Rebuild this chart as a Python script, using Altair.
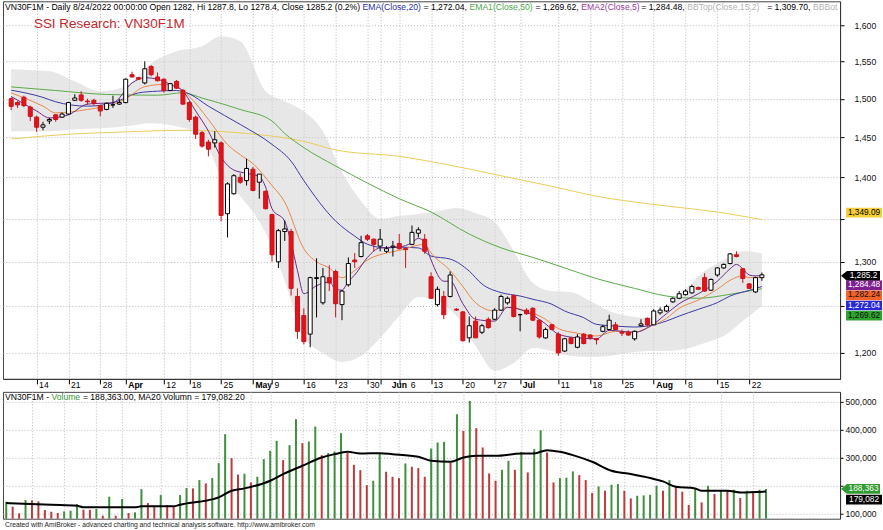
import altair as alt
import pandas as pd

FONT = "Liberation Sans"

# ---------------- data ----------------
bar_index = list(range(119))  # trading days 8 Mar 2022 .. 24 Aug 2022

opens = [1500, 1495, 1502, 1489, 1476, 1463, 1471, 1479, 1476, 1480,
         1498, 1505, 1497, 1498, 1491, 1486, 1492, 1493, 1495, 1532,
         1528, 1521, 1543, 1529, 1526, 1511, 1523, 1511, 1495, 1476,
         1456, 1444, 1443, 1443, 1356, 1380, 1400, 1396, 1410, 1394,
         1383, 1355, 1300, 1335, 1335, 1261, 1240, 1220, 1281, 1254,
         1282, 1289, 1252, 1274, 1302, 1306, 1330, 1326, 1318, 1312,
         1317, 1321, 1315, 1320, 1333, 1326, 1283, 1252, 1261, 1261,
         1247, 1244, 1216, 1234, 1222, 1236, 1236, 1246, 1254, 1262,
         1241, 1246, 1248, 1235, 1216, 1230, 1220, 1202, 1216, 1206,
         1220, 1219, 1215, 1223, 1225, 1230, 1222, 1222, 1215, 1229,
         1237, 1230, 1243, 1245, 1255, 1259, 1263, 1265, 1271, 1282,
         1268, 1285, 1293, 1298, 1308, 1292, 1275, 1266, 1282]
highs = [1502, 1497, 1504, 1491, 1478, 1470, 1475, 1480, 1482, 1496,
         1506, 1510, 1500, 1500, 1492, 1495, 1504, 1500, 1527, 1536,
         1529, 1550, 1545, 1535, 1527, 1521, 1525, 1513, 1497, 1478,
         1458, 1447, 1458, 1445, 1394, 1404, 1405, 1423, 1413, 1404,
         1384, 1356, 1338, 1348, 1338, 1270, 1248, 1283, 1304, 1293,
         1296, 1291, 1268, 1305, 1310, 1330, 1332, 1327, 1338, 1318,
         1324, 1332, 1316, 1342, 1340, 1332, 1288, 1272, 1267, 1289,
         1248, 1245, 1239, 1239, 1231, 1238, 1248, 1263, 1261, 1263,
         1242, 1248, 1249, 1236, 1227, 1231, 1222, 1216, 1216, 1220,
         1221, 1220, 1216, 1230, 1241, 1233, 1225, 1224, 1224, 1236,
         1238, 1247, 1249, 1252, 1260, 1267, 1269, 1274, 1272, 1287,
         1281, 1294, 1298, 1310, 1312, 1293, 1276, 1283, 1287.8]
lows = [1485, 1488, 1489, 1471, 1457, 1459, 1467, 1470, 1475, 1479,
        1497, 1496, 1492, 1491, 1477, 1485, 1488, 1492, 1494, 1528,
        1525, 1519, 1530, 1523, 1508, 1510, 1513, 1492, 1470, 1448,
        1437, 1426, 1437, 1347, 1328, 1379, 1392, 1390, 1383, 1374,
        1361, 1300, 1293, 1324, 1262, 1215, 1209, 1206, 1238, 1252,
        1267, 1238, 1235, 1272, 1293, 1305, 1324, 1312, 1312, 1310,
        1306, 1314, 1293, 1319, 1328, 1309, 1259, 1250, 1236, 1260,
        1245, 1212, 1211, 1216, 1220, 1226, 1235, 1245, 1252, 1238,
        1223, 1241, 1234, 1215, 1215, 1224, 1197, 1201, 1209, 1205,
        1209, 1214, 1209, 1222, 1224, 1224, 1218, 1218, 1213, 1228,
        1228, 1230, 1241, 1244, 1254, 1258, 1262, 1264, 1268, 1266,
        1267, 1283, 1292, 1297, 1305, 1276, 1270, 1265, 1278.4]
closes = [1490, 1492, 1491, 1477, 1463, 1466, 1473, 1473, 1480, 1495,
          1501, 1498, 1496, 1494, 1484, 1494, 1492, 1495, 1526, 1529,
          1526, 1540, 1532, 1524, 1511, 1520, 1514, 1493, 1473, 1454,
          1439, 1435, 1447, 1354, 1392, 1402, 1394, 1411, 1384, 1404,
          1362, 1308, 1336, 1338, 1270, 1223, 1212, 1282, 1282, 1283,
          1276, 1253, 1267, 1298, 1300, 1322, 1326, 1320, 1326, 1315,
          1318, 1315, 1314, 1334, 1337, 1312, 1259, 1269, 1241, 1285,
          1246, 1213, 1229, 1216, 1229, 1227, 1246, 1261, 1259, 1239,
          1241, 1242, 1235, 1217, 1225, 1225, 1200, 1215, 1210, 1217,
          1210, 1216, 1214, 1228, 1235, 1225, 1221, 1219, 1223, 1231,
          1230, 1245, 1246, 1250, 1259, 1264, 1267, 1272, 1269, 1267,
          1280, 1293, 1297, 1309, 1306, 1281, 1270, 1282, 1285.2]
volumes = [142900, 125000, 101200, 148800, 147500, 144000, 113100, 107100, 102400, 108300,
           110700, 134500, 114300, 113500, 116700, 92900, 160700, 92900, 152400, 102400,
           104800, 188100, 138100, 128600, 166700, 131000, 125000, 166700, 191700, 190500,
           220200, 208300, 227400, 280900, 384500, 298800, 240000, 243000, 211900, 232100,
           295200, 325000, 360700, 291700, 345200, 438100, 352400, 358300, 411900, 309500,
           316700, 322600, 388100, 316700, 275000, 255900, 202400, 217900, 316700, 250000,
           232100, 227400, 279800, 267900, 263100, 232100, 333300, 354800, 357100, 283300,
           455900, 396400, 503600, 405900, 336900, 244000, 217900, 257100, 289300, 257100,
           321400, 247600, 330900, 398800, 319000, 211900, 227400, 229000, 251200, 238100,
           220200, 173800, 197600, 182100, 203600, 205900, 182100, 154800, 164300, 165500,
           167500, 200000, 182100, 220200, 197600, 178600, 131000, 190500, 140500, 200000,
           170200, 182100, 181000, 185700, 156000, 182100, 181000, 185700, 188363]

# date labels on the time axis
tick_idx = [4, 9, 14, 18, 24, 28, 33, 38, 41, 46, 51, 56, 58, 61, 66, 71, 76, 80, 86, 91, 96, 101, 106, 111, 116]
tick_text = ["14", "21", "28", "Apr", "12", "18", "25", "May", "9", "16", "23", "30", "Jun", "6",
             "13", "20", "27", "Jul", "11", "18", "25", "Aug", "8", "15", "22"]
month_idx = [18, 38, 58, 80, 101]
pushed_idx = [58, 61]  # labels nudged right to avoid overlap, as in the reference

price_ticks = [1200, 1250, 1300, 1350, 1400, 1450, 1500, 1550, 1600]
volume_ticks = [100000, 200000, 300000, 400000, 500000]

# indicator lines (vertices)
ema5_idx = [0, 4, 6, 9, 12, 16, 19, 21, 23, 25, 27, 29, 31, 33, 35, 37, 39, 40, 41, 43, 44, 45, 46, 48, 50,
            51, 52, 53, 54, 56, 58, 61, 63, 64, 65, 66, 68, 69, 71, 73, 76, 78, 81, 84, 86, 89, 92, 94, 98,
            101, 103, 105, 108, 111, 113, 114, 115, 116, 117, 118]
ema5_val = [1503, 1484, 1475, 1479, 1493, 1495, 1521, 1528, 1526, 1519, 1510, 1484, 1458, 1425, 1409, 1405,
            1401, 1388, 1362, 1347, 1322, 1290, 1264, 1273, 1277, 1269, 1268, 1278, 1285, 1305, 1316, 1317,
            1322, 1327, 1322, 1302, 1278, 1278, 1253, 1236, 1234, 1249, 1244, 1231, 1220, 1216, 1215, 1224,
            1222, 1231, 1242, 1253, 1264, 1278, 1292, 1297, 1292, 1285, 1284, 1284.48]
ema10_idx = [0, 5, 7, 12, 16, 18, 21, 24, 26, 28, 31, 34, 36, 38, 41, 43, 46, 48, 50, 52, 54, 56, 59, 61,
             65, 66, 69, 71, 73, 76, 78, 81, 84, 86, 89, 92, 95, 98, 100, 103, 105, 108, 111, 113, 115, 116, 118]
ema10_val = [1507.8, 1490.3, 1481.5, 1486, 1492.6, 1500, 1516, 1519, 1516, 1503, 1473, 1441, 1428, 1417,
             1390, 1370, 1315, 1300, 1293, 1282, 1290, 1302, 1310, 1313, 1320, 1310, 1290, 1272, 1254,
             1245, 1249, 1245, 1236, 1226, 1221, 1218, 1223, 1222, 1227, 1237, 1248, 1257, 1269, 1279,
             1284, 1282, 1282.24]
ema20_idx = [0, 5, 7, 12, 16, 20, 23, 26, 28, 31, 36, 41, 44, 46, 51, 54, 56, 59, 61, 64, 66, 69, 72, 74,
             77, 80, 82, 85, 87, 90, 92, 95, 98, 100, 103, 105, 108, 111, 113, 116, 118]
ema20_val = [1511.4, 1501.8, 1496, 1490.3, 1494.6, 1507.8, 1510, 1510.9, 1506.4, 1490.3, 1466.6, 1441.1,
             1420, 1396, 1347.3, 1329.6, 1320.2, 1315.9, 1316.7, 1315.9, 1306.5, 1303.1, 1289.4, 1274.9,
             1265.3, 1261.5, 1257.9, 1252.4, 1245, 1237.7, 1230.5, 1228.7, 1227.6, 1228.7, 1234.1, 1239.5,
             1246.8, 1254.2, 1261.5, 1267.8, 1272.04]
ema50_idx = [0, 7, 15, 23, 27, 30, 36, 41, 43, 46, 51, 56, 61, 66, 72, 77, 82, 87, 92, 98, 103, 108, 113, 118]
ema50_val = [1515.7, 1510.9, 1505.7, 1504.7, 1508, 1501, 1486, 1471, 1455, 1437, 1414, 1393, 1374, 1358,
             1332, 1316, 1305, 1293, 1281, 1270, 1261.5, 1259, 1263.4, 1269.62]
ema200_idx = [0, 9, 18, 27, 37, 46, 51, 61, 69, 77, 85, 92, 100, 111, 118]
ema200_val = [1448, 1454, 1457, 1459, 1455, 1445, 1434, 1426, 1415, 1402, 1389, 1377, 1368, 1358, 1349.09]

bb_idx = [0, 6, 10, 14, 18, 22, 26, 30, 33, 36, 40, 43, 46, 49, 52, 55, 58, 61, 64, 67, 70, 73, 76, 79,
          82, 85, 88, 91, 94, 97, 100, 103, 106, 109, 112, 115, 118]
bb_top = [1539.4, 1536.7, 1523.3, 1510.0, 1516.6, 1547.6, 1563.9, 1570.8, 1584.6, 1577.7, 1510.0, 1496.8,
          1483.7, 1457.9, 1406.5, 1371.1, 1349.7, 1353.2, 1355.6, 1359.1, 1362.7, 1356.7, 1346.1, 1312.3,
          1276.0, 1267.0, 1265.9, 1256.0, 1245.0, 1239.5, 1237.3, 1250.5, 1269.2, 1289.4, 1301.9, 1312.3, 1309.7]
bb_bot = [1457.9, 1457.9, 1460.5, 1461.8, 1464.4, 1468.2, 1464.4, 1451.6, 1401.5, 1377.1, 1333.2, 1278.2,
          1216.9, 1200.0, 1190.6, 1196.8, 1215.9, 1239.5, 1260.4, 1256.0, 1239.5, 1207.3, 1181.4, 1189.5,
          1205.2, 1202.1, 1196.8, 1195.8, 1196.8, 1200.0, 1202.1, 1202.1, 1204.2, 1210.5, 1218.0, 1234.1, 1250.4]

volma_idx = [0, 7, 11, 12, 20, 21, 26, 27, 30, 31, 33, 35, 37, 41, 43, 46, 49, 51, 53, 55, 58, 60, 64, 66,
             69, 71, 73, 76, 80, 82, 84, 86, 88, 91, 94, 97, 100, 102, 104, 107, 108, 112, 114, 118]
volma_val = [138100, 132100, 128600, 122600, 122600, 126200, 126200, 132100, 142900, 146400, 158300,
             182100, 190500, 217900, 241700, 271400, 301200, 313100, 321400, 315500, 316700, 313100,
             303600, 289300, 285700, 301200, 307100, 307100, 315500, 315500, 327400, 321400, 309500,
             285700, 253600, 241700, 227400, 215500, 196400, 190500, 182100, 182100, 176200, 179082.2]

last_close, last_ema5, last_ema10, last_ema20, last_ema50, last_ema200 = 1285.2, 1284.48, 1282.24, 1272.04, 1269.62, 1349.09
last_volume, last_volma = 188363, 179082.2

# ---------------- tables ----------------
candles = pd.DataFrame({"idx": bar_index, "open": opens, "high": highs, "low": lows, "close": closes})
candles["dir"] = ["up" if c >= o else "down" for o, c in zip(opens, closes)]
vol_df = pd.DataFrame({"idx": bar_index, "vol": volumes})
vol_df["dir"] = ["up"] + ["up" if volumes[i] > volumes[i - 1] else "down" for i in range(1, len(volumes))]
band_df = pd.DataFrame({"idx": bb_idx, "top": bb_top, "bot": bb_bot})

# ---------------- layout ----------------
W, H_PRICE, H_VOL = 838, 378, 127
x_scale = alt.Scale(domain=[-0.5, 129.5], nice=False, zero=False)
p_scale = alt.Scale(type="log", domain=[1173, 1634], nice=False, zero=False)
v_scale = alt.Scale(domain=[82000, 536000], nice=False, zero=False)
GRID = dict(grid=True, gridDash=[1, 2], gridColor="#b8b8b8", gridWidth=1)

idx_js = "[" + ",".join(str(i) for i in tick_idx) + "]"
txt_js = "[" + ",".join("'" + t + "'" for t in tick_text) + "]"
month_js = "[" + ",".join(str(i) for i in month_idx) + "]"
pushed_js = "[" + ",".join(str(i) for i in pushed_idx) + "]"

x_axis_price = alt.Axis(
    values=tick_idx, labelExpr=f"{txt_js}[indexof({idx_js}, datum.value)]", title=None,
    orient="bottom", ticks=True, tickSize=5, tickColor="#000", tickWidth=1,
    labelAlign="left", labelBaseline="top", labelPadding=-3,
    labelOffset={"condition": {"test": f"indexof({pushed_js}, datum.value) >= 0", "value": 11}, "value": 2},
    labelFontSize=8.6, labelFont=FONT, labelColor="#000",
    labelFontWeight={"condition": {"test": f"indexof({month_js}, datum.value) >= 0", "value": "bold"},
                     "value": "normal"},
    labelOverlap=False, labelBound=False, labelFlush=False,
    domain=True, domainColor="#333", **GRID)
y_axis_price = alt.Axis(
    orient="right", values=price_ticks, title=None,
    labelExpr="datum.value == 1250 || datum.value == 1350 ? '' : format(datum.value, ',')",
    tickSize=4, tickColor="#000", domainColor="#333", labelFontSize=8.7, labelFont=FONT,
    labelColor="#111", labelPadding=10, labelAlign="left", labelBaseline="middle", **GRID)
x_axis_vol = alt.Axis(values=tick_idx, labels=False, ticks=False, domain=False, title=None, **GRID)
y_axis_vol = alt.Axis(
    orient="right", values=volume_ticks, title=None,
    labelExpr="datum.value == 200000 ? '' : format(datum.value, ',')",
    tickSize=3, tickColor="#000", domainColor="#333", labelFontSize=8.6, labelFont=FONT,
    labelColor="#111", labelPadding=2, labelAlign="left", labelBaseline="middle", **GRID)


def PX(f):
    return alt.X(f, type="quantitative", scale=x_scale, axis=x_axis_price)


def PY(f):
    return alt.Y(f, type="quantitative", scale=p_scale, axis=y_axis_price)


def VX(f):
    return alt.X(f, type="quantitative", scale=x_scale, axis=x_axis_vol)


def VY(f):
    return alt.Y(f, type="quantitative", scale=v_scale, axis=y_axis_vol)


def ind_line(ix, vals, color):
    df = pd.DataFrame({"idx": ix, "v": vals})
    return alt.Chart(df).mark_line(color=color, strokeWidth=1, interpolate="monotone").encode(
        x=PX("idx"), y=PY("v"))


def note(text, x, y, size, color, weight="normal"):
    return alt.Chart(pd.DataFrame({"a": [0]})).mark_text(
        text=text, font=FONT, fontSize=size, color=color, fontWeight=weight, align="left",
        baseline="middle").encode(x=alt.value(x), y=alt.value(y))


BOX = "M-1,-0.27L1,-0.27L1,0.27L-1,0.27Z"
ARROW = "M-1,0L-0.7,-0.25L1,-0.25L1,0.25L-0.7,0.25Z"


def value_box(value, text, fill, tcolor, yoff, yenc, arrow=False):
    df = pd.DataFrame({"v": [value]})
    if arrow:
        shape, size, cx, tx = ARROW, 1521, 858.5, 861.5
    else:
        shape, size, cx, tx = BOX, 1296, 862, 862
    box = alt.Chart(df).mark_point(shape=shape, filled=True, size=size, color=fill, opacity=1,
                                   strokeWidth=0, yOffset=yoff).encode(x=alt.value(cx), y=yenc("v"))
    lab = alt.Chart(df).mark_text(text=text, font=FONT, fontSize=8.3, color=tcolor, align="center",
                                  baseline="middle", dy=yoff).encode(x=alt.value(tx), y=yenc("v"))
    return box + lab


# ---------------- price panel ----------------
band = alt.Chart(band_df).mark_area(color="#d4d4d4", opacity=0.55, interpolate="monotone").encode(
    x=PX("idx"), y=PY("top"), y2=alt.Y2("bot"))

wick = alt.Chart(candles).mark_rule(strokeWidth=1).encode(
    x=PX("idx"), y=PY("low"), y2=alt.Y2("high"),
    color=alt.Color("dir:N", scale=alt.Scale(domain=["up", "down"], range=["#000000", "#cc1018"]), legend=None))
body = alt.Chart(candles).mark_bar(size=4, strokeWidth=1).encode(
    x=PX("idx"), y=PY("open"), y2=alt.Y2("close"),
    fill=alt.Fill("dir:N", scale=alt.Scale(domain=["up", "down"], range=["#ffffff", "#e3131b"]), legend=None),
    stroke=alt.Stroke("dir:N", scale=alt.Scale(domain=["up", "down"], range=["#000000", "#cc1018"]), legend=None))

header_parts = [
    ("VN30F1M - Daily 8/24/2022 00:00:00 Open 1282, Hi 1287.8, Lo 1278.4, Close 1285.2 (0.2%)", 2, "#000"),
    ("EMA(Close,20)", 360, "#2f2fa8"),
    ("= 1,272.04,", 421, "#000"),
    ("EMA1(Close,50)", 467, "#4caa4c"),
    ("= 1,269.62,", 533, "#000"),
    ("EMA2(Close,5)", 579, "#9a3aa0"),
    ("= 1,284.48,", 639, "#000"),
    ("BBTop(Close,15,2)", 685, "#b4b4b4"),
    ("= 1,309.70,", 765, "#000"),
    ("BBBot", 811, "#b4b4b4"),
]
headers = [note(t, x, 5.5, 8.63, c) for t, x, c in header_parts]
headers.append(note("SSI Research: VN30F1M", 31, 22.5, 13.45, "#c62a2f"))

price_boxes = [
    value_box(last_ema200, "1,349.09", "#f5cf36", "#000", -7, PY),
    value_box(last_close, "1,285.2", "#000000", "#fff", 1, PY, arrow=True),
    value_box(last_ema5, "1,284.48", "#7d1f8c", "#fff", 10, PY),
    value_box(last_ema10, "1,282.24", "#f2622a", "#111", 18, PY),
    value_box(last_ema20, "1,272.04", "#2828d8", "#fff", 19, PY),
    value_box(last_ema50, "1,269.62", "#2ea42e", "#111", 27, PY),
]

price_chart = alt.layer(
    band,
    ind_line(ema200_idx, ema200_val, "#e8cd5c"),
    ind_line(ema50_idx, ema50_val, "#5aaa48"),
    ind_line(ema20_idx, ema20_val, "#3a3aa6"),
    ind_line(ema10_idx, ema10_val, "#e8884a"),
    ind_line(ema5_idx, ema5_val, "#6b2a86"),
    wick, body, *headers, *price_boxes,
).properties(width=W, height=H_PRICE)

# ---------------- volume panel ----------------
vol_up = alt.Chart(vol_df).transform_filter(alt.datum.dir == "up").mark_rule(
    color="#3f8f3f", strokeWidth=2).encode(x=VX("idx"), y=VY("vol"), y2=alt.value(H_VOL))
vol_dn = alt.Chart(vol_df).transform_filter(alt.datum.dir == "down").mark_rule(
    color="#bf3b3b", strokeWidth=2).encode(x=VX("idx"), y=VY("vol"), y2=alt.value(H_VOL))
volma = alt.Chart(pd.DataFrame({"idx": volma_idx, "v": volma_val})).mark_line(
    color="#000", strokeWidth=2, interpolate="monotone").encode(x=VX("idx"), y=VY("v"))

vol_notes = [
    note("VN30F1M - ", 2, 5, 8.63, "#000"),
    note("Volume", 48.5, 5, 8.63, "#3c9a3c"),
    note("= 188,363.00, MA20 Volumn = 179,082.20", 80, 5, 8.63, "#000"),
    note("Created with AmiBroker - advanced charting and technical analysis software. http://www.amibroker.com",
         2, 133.5, 6.8, "#222"),
]
vol_boxes = [
    value_box(last_volume, "188,363", "#2f9a2f", "#fff", 0, VY, arrow=True),
    value_box(last_volma, "179,082", "#000000", "#fff", 8, VY),
]

vol_chart = alt.layer(vol_up, vol_dn, volma, *vol_notes, *vol_boxes).properties(width=W, height=H_VOL)

chart = alt.vconcat(price_chart, vol_chart, spacing=13, bounds="flush").properties(
    padding={"left": 1, "top": 0, "right": 0, "bottom": 0},
    background="#ffffff",
).configure_view(stroke="#444444", strokeWidth=1).configure_axis(labelFont=FONT)

chart.save("out.html", embed_options={"renderer": "svg", "actions": False})
